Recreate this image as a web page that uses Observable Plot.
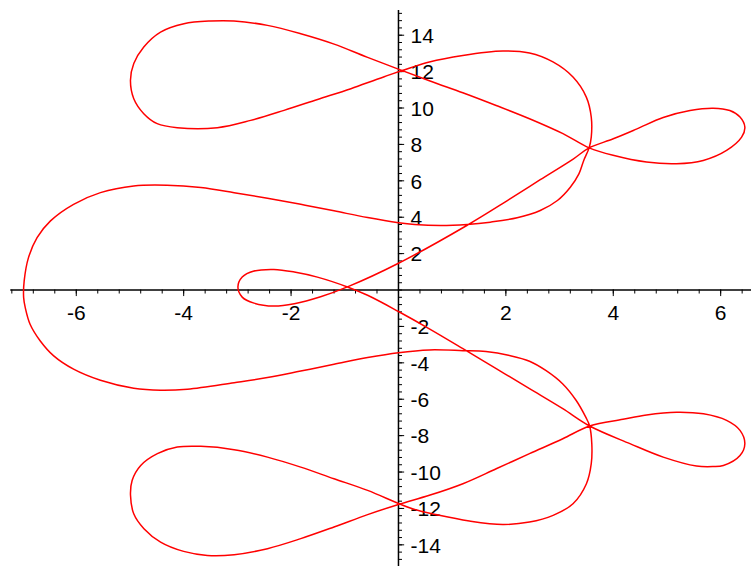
<!DOCTYPE html>
<html><head><meta charset="utf-8">
<script src="https://cdn.jsdelivr.net/npm/d3@7"></script>
<script src="https://cdn.jsdelivr.net/npm/@observablehq/plot@0.6"></script>
<style>body{margin:0;background:#fff}svg{background:#fff}</style>
</head><body><div id="chart"></div>
<script>
// Curve, in drawing order (closed curve)
const diagonalUp = [[-0.95,0.17],[0,1.47],[1.28,3.56],[2.02,4.9],[2.64,6.06],[3.26,7.21]];
const loopTopRight = [[3.55,7.81],[4.0,8.31],[4.43,8.84],[4.93,9.48],[5.43,9.86],[5.86,9.99],[6.17,9.86],[6.36,9.5],[6.45,8.95],[6.39,8.4],[6.11,7.67],[5.675,7.12],[5.177,6.94],[4.618,7.03],[3.996,7.4]];
const lineTopDown = [[3.55,7.81],[3.063,8.59],[2.44,9.41],[1.819,10.14],[1.198,10.84],[0.575,11.5]];
const loopTopLeft = [[-0.575,12.78],[-1.198,13.51],[-1.819,14.08],[-2.44,14.54],[-3.063,14.78],[-3.498,14.78],[-3.996,14.63],[-4.431,14.17],[-4.743,13.35],[-4.929,12.44],[-4.991,11.52],[-4.929,10.51],[-4.743,9.69],[-4.493,9.14],[-4.119,8.92],[-3.373,8.92],[-2.752,9.32],[-2.131,9.87],[-1.507,10.47],[-0.886,11.06],[-0.265,11.72]];
const loopTopMiddle = [[0.575,12.53],[1.198,12.89],[1.944,13.13],[2.44,13.02],[2.877,12.53],[3.25,11.7],[3.498,10.6],[3.59,9.5],[3.59,8.4],[3.55,7.81],[3.45,7.12],[3.36,6.38],[3.2,5.65],[2.96,4.92],[2.64,4.37],[2.21,3.97],[1.71,3.73],[1.28,3.6],[0.78,3.54],[0.3,3.6],[0,3.7]];
const loopBigLeft = [[-0.575,3.98],[-1.2,4.35],[-1.82,4.71],[-2.44,5.04],[-3.06,5.35],[-3.68,5.63],[-4.31,5.76],[-4.93,5.72],[-5.55,5.35],[-6.05,4.71],[-6.48,3.8],[-6.73,2.88],[-6.89,1.78],[-6.97,0.5],[-6.98,-0.42],[-6.95,-0.97],[-6.86,-1.88],[-6.67,-2.8],[-6.42,-3.62],[-6.05,-4.35],[-5.55,-4.96],[-4.93,-5.4],[-4.43,-5.51],[-3.93,-5.45],[-3.06,-5.09],[-2.44,-4.81],[-1.82,-4.45],[-1.2,-4.08],[-0.575,-3.71],[0,-3.44]];
const loopBottomMiddle = [[0.575,-3.29],[1.2,-3.33],[1.63,-3.38],[2.07,-3.6],[2.44,-3.91],[2.75,-4.43],[3.06,-5.16],[3.31,-6.07],[3.49,-7.0],[3.56,-7.47],[3.6,-8.44],[3.59,-9.54],[3.5,-10.64],[3.25,-11.74],[2.88,-12.38],[2.44,-12.75],[1.94,-12.88],[1.32,-12.69],[0.76,-12.38],[0.26,-12.02]];
const loopBottomLeft = [[-0.575,-11.01],[-1.2,-10.37],[-1.82,-9.73],[-2.44,-9.18],[-3.06,-8.77],[-3.68,-8.59],[-4.12,-8.63],[-4.49,-8.99],[-4.8,-9.64],[-4.96,-10.46],[-4.99,-11.28],[-4.93,-12.29],[-4.74,-13.11],[-4.43,-13.85],[-4.0,-14.36],[-3.56,-14.58],[-3.06,-14.54],[-2.44,-14.21],[-1.82,-13.66],[-1.2,-13.02],[-0.575,-12.34]];
const lineBottomUp = [[0,-11.78],[0.575,-11.28],[1.2,-10.64],[1.82,-9.82],[2.44,-8.99],[3.06,-8.17],[3.56,-7.47]];
const loopBottomRight = [[4.18,-7.1],[4.62,-6.86],[5.18,-6.71],[5.68,-6.8],[6.11,-7.16],[6.36,-7.71],[6.45,-8.44],[6.36,-9.09],[6.05,-9.64],[5.86,-9.7],[5.55,-9.67],[4.93,-9.18],[4.31,-8.44],[3.56,-7.47]];
const diagonalDown = [[3.06,-6.52],[2.44,-5.42],[1.82,-4.32],[1.2,-3.22],[0.575,-2.13],[0,-1.18],[-0.575,-0.29]];
const loopSmall = [[-0.95,0.17],[-1.51,0.71],[-1.94,0.99],[-2.32,1.13],[-2.69,1.04],[-2.91,0.71],[-2.99,0.16],[-2.91,-0.39],[-2.69,-0.72],[-2.32,-0.88],[-1.94,-0.75],[-1.45,-0.37]];

const curvePath = [].concat(diagonalUp, loopTopRight, lineTopDown, loopTopLeft, loopTopMiddle,
  loopBigLeft, loopBottomMiddle, loopBottomLeft, lineBottomUp, loopBottomRight, diagonalDown, loopSmall);

// Axes and ticks
const xTickLabels = [-6, -4, -2, 2, 4, 6];
const yTickLabels = [-14, -12, -10, -8, -6, -4, -2, 2, 4, 6, 8, 10, 12, 14];
const xMinorTicks = d3.range(-18, 17).map(k => +(k * 0.4).toFixed(1));
const yMinorTicks = d3.range(-38, 39).map(k => +(k * 0.4).toFixed(1));
const xAxisExtent = [-7.22, 6.6];
const yAxisExtent = [-15.3, 15.36];

const font = "'Liberation Sans', Arial, sans-serif";

const chart = Plot.plot({
  width: 751,
  height: 566,
  margin: 0,
  style: {background: "#fff", fontFamily: font},
  x: {domain: [-7.411, 6.574], axis: null},
  y: {domain: [-15.19, 15.907], axis: null},
  marks: [
    Plot.ruleY([0], {x1: xAxisExtent[0], x2: xAxisExtent[1], stroke: "black", strokeWidth: 1.5}),
    Plot.ruleX([0], {y1: yAxisExtent[0], y2: yAxisExtent[1], stroke: "black", strokeWidth: 1.5}),
    Plot.ruleX(xMinorTicks, {x: d => d, y1: 0, y2: -0.22, stroke: "black", strokeWidth: 1}),
    Plot.ruleX(xTickLabels, {x: d => d, y1: 0, y2: -0.36, stroke: "black", strokeWidth: 1}),
    Plot.ruleY(yMinorTicks, {y: d => d, x1: 0, x2: 0.075, stroke: "black", strokeWidth: 1}),
    Plot.ruleY(yTickLabels, {y: d => d, x1: 0, x2: 0.115, stroke: "black", strokeWidth: 1}),
    Plot.text(xTickLabels, {x: d => d, y: 0, text: d => String(d), dy: 23, fontSize: 21, textAnchor: "middle", lineAnchor: "middle", fill: "black"}),
    Plot.text(yTickLabels, {x: 0, y: d => d, text: d => String(d), dx: 12, dy: 1, fontSize: 21, textAnchor: "start", lineAnchor: "middle", fill: "black"}),
    Plot.line(curvePath, {x: d => d[0], y: d => d[1], stroke: "#ff0000", strokeWidth: 1.5, curve: "catmull-rom-closed"})
  ]
});
document.getElementById("chart").appendChild(chart);
</script></body></html>
